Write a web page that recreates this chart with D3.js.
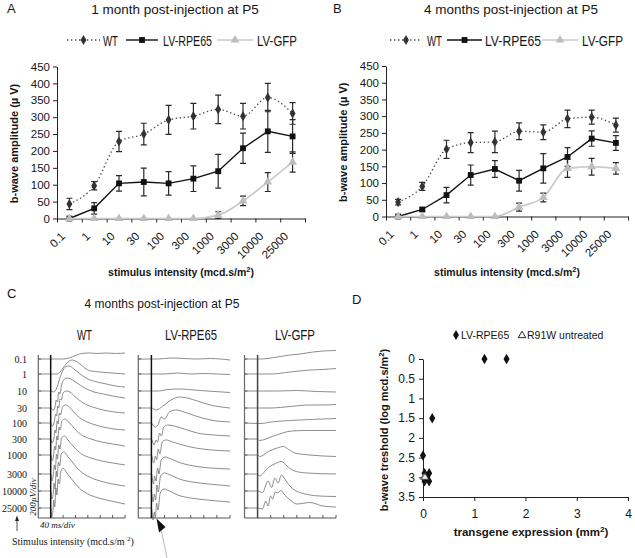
<!DOCTYPE html>
<html><head><meta charset="utf-8">
<script src="https://cdn.jsdelivr.net/npm/d3@7"></script>
<style>
body{margin:0;background:#fff}
svg{display:block}
text{font-family:"Liberation Sans",Arial,sans-serif;fill:#151515}
.narrow{font-family:"Liberation Sans Narrow","Arial Narrow","Liberation Sans",sans-serif}
.serif{font-family:"Liberation Serif","Times New Roman",serif}
</style>
</head><body>
<svg id="chart" width="635" height="558"></svg>
<script>
// ---------------- DATA ----------------
const intensities = ["0.1","1","10","30","100","300","1000","3000","10000","25000"];
const yTicksAB = [0,50,100,150,200,250,300,350,400,450];
const seriesNames = ["WT","LV-RPE65","LV-GFP"];

// Panel A : 1 month post-injection
const wtA      = [43, 97, 228, 250, 292, 303, 323, 303, 358, 311];
const wtAErr   = [17, 12, 30, 32, 43, 38, 42, 38, 42, 32];
const rpeA     = [0, 30, 104, 108, 104, 118, 140, 208, 258, 243];
const rpeAErr  = [0, 17, 23, 41, 35, 38, 50, 45, 62, 50];
const gfpA     = [0, 0, 0, 0, 0, 0, 10, 52, 108, 167];
const gfpAErr  = [0, 0, 0, 0, 0, 0, 10, 14, 28, 30];

// Panel B : 4 months post-injection
const wtB      = [43, 90, 201, 221, 223, 255, 252, 292, 297, 273];
const wtBErr   = [8, 12, 27, 30, 32, 25, 22, 26, 21, 21];
const rpeB     = [0, 21, 64, 124, 142, 107, 144, 178, 233, 220];
const rpeBErr  = [0, 5, 23, 30, 25, 31, 44, 28, 23, 22];
const gfpB     = [0, 0, 0, 0, 0, 28, 57, 144, 149, 144];
const gfpBErr  = [0, 0, 0, 0, 0, 12, 13, 27, 25, 17];

// Panel C : ERG traces, [time ms, amplitude µV], one trace per intensity
const cTimeTicks = [0,40,80,120,160,200,240];
const wtTraces = [
 [[-40,0],[0,0],[40,0],[60,10],[80,35],[100,55],[125,60],[150,55],[180,60],[210,55],[240,60]],
 [[-40,0],[0,0],[20,0],[30,20],[40,60],[50,100],[60,130],[70,140],[80,130],[95,100],[110,60],[130,30],[160,20],[200,10],[240,0]],
 [[-40,0],[0,0],[10,-10],[18,20],[25,80],[32,150],[40,210],[50,245],[60,250],[75,220],[95,170],[120,120],[150,90],[180,70],[210,50],[240,40]],
 [[-40,0],[0,0],[8,-20],[14,10],[18,80],[22,60],[26,160],[30,140],[35,230],[42,280],[52,300],[65,290],[85,250],[110,200],[140,160],[170,140],[200,120],[240,100]],
 [[-40,0],[0,0],[6,-30],[12,20],[16,90],[19,70],[23,170],[26,150],[30,240],[34,230],[40,300],[50,320],[62,310],[80,260],[105,200],[135,160],[170,130],[205,110],[240,100]],
 [[-40,0],[0,0],[5,-40],[10,0],[14,90],[17,60],[21,180],[24,150],[28,260],[32,240],[38,320],[48,340],[60,320],[80,250],[105,190],[135,150],[170,120],[205,100],[240,90]],
 [[-40,0],[0,0],[5,-60],[9,-10],[13,90],[16,50],[20,190],[23,150],[27,280],[31,250],[36,340],[46,360],[58,330],[78,260],[100,200],[130,160],[165,130],[200,110],[240,90]],
 [[-40,0],[0,0],[4,-70],[8,-20],[12,90],[15,40],[19,200],[22,150],[26,290],[30,250],[35,360],[44,380],[56,340],[75,270],[100,200],[130,160],[165,130],[200,110],[240,90]],
 [[-40,0],[0,0],[4,-80],[8,-30],[11,80],[14,20],[18,200],[21,140],[25,290],[29,250],[34,370],[42,390],[54,350],[72,280],[95,200],[125,140],[160,100],[200,70],[240,50]],
 [[-40,0],[0,0],[3,-90],[7,-40],[10,80],[13,10],[17,200],[20,130],[24,290],[28,240],[33,370],[40,400],[52,350],[70,280],[92,200],[120,140],[155,100],[195,70],[240,40]]
];
const rpeTraces = [
 [[-40,0],[20,0],[60,10],[100,5],[140,0],[180,5],[240,-10]],
 [[-40,0],[40,0],[80,10],[120,0],[160,5],[200,0],[240,-5]],
 [[-40,0],[20,0],[50,15],[90,20],[130,10],[170,0],[240,-15]],
 [[-40,0],[0,0],[15,-20],[35,20],[60,80],[85,110],[110,100],[140,70],[180,30],[240,0]],
 [[-40,0],[0,0],[10,-40],[20,-20],[30,60],[40,40],[55,110],[75,130],[100,110],[135,70],[180,30],[240,10]],
 [[-40,0],[0,0],[8,-60],[14,-10],[19,-30],[25,60],[30,30],[38,120],[50,140],[70,130],[100,100],[140,60],[190,40],[240,30]],
 [[-40,0],[0,0],[7,-80],[12,-10],[16,-50],[21,60],[26,10],[33,130],[45,150],[65,130],[95,100],[135,70],[185,50],[240,40]],
 [[-40,0],[0,0],[6,-100],[10,-20],[14,-70],[19,60],[23,0],[30,140],[42,170],[60,150],[90,110],[130,80],[180,60],[240,50]],
 [[-40,0],[0,0],[5,-110],[9,-30],[13,-90],[17,60],[21,-10],[28,150],[40,180],[58,160],[85,120],[125,90],[175,70],[240,50]],
 [[-40,0],[0,0],[5,-120],[9,-40],[12,-100],[16,50],[20,-20],[27,150],[38,190],[55,170],[80,130],[120,100],[170,80],[240,60]]
];
const gfpTraces = [
 [[-40,0],[10,0],[60,20],[100,40],[130,50],[170,70],[200,80],[240,85]],
 [[-40,0],[40,0],[100,20],[160,40],[200,45],[240,55]],
 [[-40,0],[60,0],[120,5],[180,-5],[240,-10]],
 [[-40,0],[40,0],[100,15],[160,30],[200,30],[240,35]],
 [[-40,0],[10,-5],[40,10],[100,25],[160,35],[240,45]],
 [[-40,0],[0,0],[5,-15],[53,35],[104,80],[150,85],[240,85]],
 [[-40,0],[0,0],[7,-15],[33,35],[60,70],[79,85],[95,55],[114,20],[160,0],[240,-15]],
 [[-40,0],[0,0],[5,-20],[33,65],[55,105],[73,125],[90,80],[109,35],[150,10],[240,0]],
 [[-40,0],[0,0],[15,-15],[32,100],[43,35],[53,130],[63,80],[73,160],[85,110],[99,50],[129,-15],[190,-50],[240,-55]],
 [[-40,0],[0,0],[15,-10],[25,70],[32,20],[40,120],[46,90],[54,160],[62,150],[70,175],[85,125],[100,80],[120,40],[160,55],[200,20],[240,10]]
];

// Panel D : threshold vs transgene expression
const dXTicks = [0,1,2,3,4];
const dYTicks = [0,0.5,1,1.5,2,2.5,3,3.5];
const rpeExprX = [1.2, 1.63, 0.18, 0, 0.03, 0.12, 0.03, 0.12, 0.07];
const rpeThrY  = [0, 0, 1.5, 2.45, 2.9, 2.9, 3.1, 3.1, 3.0];
const r91wX    = [0.02, 0.04];
const r91wY    = [3.0, 3.0];

// ---------------- DRAWING ----------------
const svg = d3.select("#chart");

function txt(x, y, s, o = {}) {
  const t = svg.append("text").attr("x", x).attr("y", y).text(s);
  if (o.cls) t.attr("class", o.cls);
  if (o.size) t.attr("font-size", o.size);
  if (o.anchor) t.attr("text-anchor", o.anchor);
  if (o.weight) t.attr("font-weight", o.weight);
  if (o.style) t.attr("font-style", o.style);
  if (o.len) t.attr("textLength", o.len).attr("lengthAdjust", "spacingAndGlyphs");
  return t;
}
function supText(x, y, pre, sup, post, o = {}) {
  const t = svg.append("text").attr("x", x).attr("y", y)
    .attr("font-size", o.size).attr("text-anchor", o.anchor || "start");
  if (o.weight) t.attr("font-weight", o.weight);
  if (o.cls) t.attr("class", o.cls);
  if (o.rot) t.attr("transform", `rotate(-90,${x},${y})`);
  t.append("tspan").text(pre);
  t.append("tspan").attr("dy", -4).attr("font-size", o.size * 0.7).text(sup);
  t.append("tspan").attr("dy", 4).text(post);
  return t;
}

function styleAxis(a) {
  a.selectAll("path.domain").attr("stroke", "#222").attr("stroke-width", 1);
  a.selectAll(".tick line").attr("stroke", "#222");
  a.selectAll(".tick text").attr("fill", "#151515").attr("font-family", "Liberation Sans, Arial, sans-serif");
}

function lineChart(cfg) {
  const g = svg.append("g");
  const x = d3.scaleBand().domain(intensities).range([cfg.x0, cfg.x1]);
  const xi = d3.scaleLinear().domain([0, intensities.length]).range([cfg.x0, cfg.x1]);
  const y = d3.scaleLinear().domain([0, 450]).range([cfg.yb, cfg.yt]);

  const ya = g.append("g").attr("transform", `translate(${cfg.x0},0)`)
    .call(d3.axisLeft(y).tickValues(yTicksAB).tickSize(4).tickSizeOuter(0).tickPadding(3));
  ya.selectAll(".tick text").attr("font-size", 11.5);
  styleAxis(ya);
  const xa = g.append("g").attr("transform", `translate(0,${cfg.yb})`)
    .call(d3.axisBottom(xi).ticks(intensities.length).tickSize(4).tickSizeOuter(0).tickFormat(""));
  styleAxis(xa);
  g.selectAll(".xl").data(intensities).join("text")
    .attr("transform", d => `translate(${x(d) + x.bandwidth() / 2 - 3.5},${cfg.yb + 18.5}) rotate(-45)`)
    .attr("text-anchor", "end").attr("font-size", 11.5).text(d => d);

  const cx = i => x(intensities[i]) + x.bandwidth() / 2;
  const series = [
    { v: cfg.wt, e: cfg.wtE, stroke: "#4a4a4a", dash: "1.4,2.6", w: 1.3, curve: d3.curveMonotoneX, sym: d3.symbolDiamond, size: 30, fill: "#333" },
    { v: cfg.rpe, e: cfg.rpeE, stroke: "#111", dash: null, w: 1.4, curve: d3.curveLinear, sym: d3.symbolSquare, size: 34, fill: "#111" },
    { v: cfg.gfp, e: cfg.gfpE, stroke: "#cacaca", dash: null, w: 1.7, curve: d3.curveMonotoneX, sym: d3.symbolTriangle, size: 34, fill: "#bdbdbd" }
  ];
  series.forEach(s => {
    g.append("path").datum(s.v)
      .attr("d", d3.line().x((d, i) => cx(i)).y(d => y(d)).curve(s.curve))
      .attr("fill", "none").attr("stroke", s.stroke).attr("stroke-width", s.w)
      .attr("stroke-dasharray", s.dash);
    s.v.forEach((d, i) => {
      const e = s.e[i];
      if (!e) return;
      const x0 = cx(i);
      g.append("path")
        .attr("d", `M${x0},${y(d - e)}V${y(d + e)}M${x0 - 3},${y(d - e)}H${x0 + 3}M${x0 - 3},${y(d + e)}H${x0 + 3}`)
        .attr("stroke", "#2a2a2a").attr("stroke-width", 1.2).attr("fill", "none");
    });
    g.selectAll(null).data(s.v).join("path")
      .attr("transform", (d, i) => `translate(${cx(i)},${y(d)})`)
      .attr("d", d3.symbol().type(s.sym).size(s.size)).attr("fill", s.fill);
  });

  // legend
  const L = cfg.leg;
  series.forEach((s, k) => {
    const it = L[k];
    g.append("line").attr("x1", it.l0).attr("x2", it.l1).attr("y1", L.y).attr("y2", L.y)
      .attr("stroke", s.stroke).attr("stroke-width", s.w).attr("stroke-dasharray", s.dash);
    g.append("path").attr("transform", `translate(${(it.l0 + it.l1) / 2},${L.y})`)
      .attr("d", d3.symbol().type(s.sym).size(s.size)).attr("fill", s.fill);
    txt(it.tx, L.y + 5.5, seriesNames[k], { cls: "narrow", size: 14.5, len: it.tw });
  });

  // titles
  txt(cfg.titleX, 14, cfg.title, { size: 13.5, anchor: "middle" });
  txt(cfg.letterX, 13, cfg.letter, { size: 13 });
  supText(cfg.xtX, 276, "stimulus intensity (mcd.s/m", "2", ")", { size: 10.5, weight: "bold", anchor: "middle" });
  txt(0, 0, "b-wave amplitude (µ V)", { size: 11, weight: "bold", anchor: "middle" })
    .attr("transform", `translate(${cfg.ytX},${(cfg.yb + cfg.yt) / 2 + 1}) rotate(-90)`);
}

lineChart({
  x0: 57, x1: 305, yb: 218.5, yt: 66.5,
  wt: wtA, wtE: wtAErr, rpe: rpeA, rpeE: rpeAErr, gfp: gfpA, gfpE: gfpAErr,
  title: "1 month post-injection at P5", titleX: 175, letter: "A", letterX: 7,
  xtX: 181, ytX: 18,
  leg: { y: 40, 0: { l0: 67, l1: 100, tx: 103, tw: 15 }, 1: { l0: 126, l1: 158, tx: 163, tw: 49 }, 2: { l0: 217, l1: 253, tx: 257, tw: 40 } }
});
lineChart({
  x0: 386, x1: 628, yb: 216.5, yt: 66,
  wt: wtB, wtE: wtBErr, rpe: rpeB, rpeE: rpeBErr, gfp: gfpB, gfpE: gfpBErr,
  title: "4 months post-injection at P5", titleX: 511, letter: "B", letterX: 333,
  xtX: 507, ytX: 347,
  leg: { y: 40, 0: { l0: 390, l1: 422, tx: 427, tw: 15 }, 1: { l0: 447, l1: 482, tx: 485, tw: 56 }, 2: { l0: 542, l1: 578, tx: 582, tw: 41 } }
});

// ---------------- Panel C ----------------
txt(7, 298, "C", { size: 13 });
txt(162, 308, "4 months post-injection at P5", { size: 12, anchor: "middle" });
const rowY = [359, 374, 391, 408, 423, 439, 455, 474, 491, 508];
const cTop = 355, cBot = 518;
const ampPx = d3.scaleLinear().domain([0, 200]).range([0, 20]); // 200 µV/div
intensities.forEach((d, i) => txt(27, rowY[i] + 3.5, d, { cls: "serif", size: 10, anchor: "end" }));

const cPanels = [
  { name: "WT", x0: 38.3, x1: 125, traces: wtTraces, tx: 84.5, tw: 15, stim: "#111" },
  { name: "LV-RPE65", x0: 138.3, x1: 230, traces: rpeTraces, tx: 191, tw: 52, stim: "#111" },
  { name: "LV-GFP", x0: 244.5, x1: 336, traces: gfpTraces, tx: 295, tw: 40, stim: "#444" }
];
cPanels.forEach(p => {
  const x = d3.scaleLinear().domain([-40, 240]).range([p.x0, p.x1]);
  const g = svg.append("g");
  txt(p.tx, 340, p.name, { cls: "narrow", size: 14.5, anchor: "middle", len: p.tw });
  g.append("line").attr("x1", p.x0).attr("x2", p.x0).attr("y1", cTop).attr("y2", cBot).attr("stroke", "#666").attr("stroke-width", 1.2);
  g.append("line").attr("x1", p.x0).attr("x2", p.x1).attr("y1", cBot).attr("y2", cBot).attr("stroke", "#555").attr("stroke-width", 1);
  cTimeTicks.forEach(t => g.append("line").attr("x1", x(t)).attr("x2", x(t)).attr("y1", cBot).attr("y2", cBot - 3).attr("stroke", "#555"));
  rowY.forEach(yy => g.append("line").attr("x1", p.x0).attr("x2", p.x0 + 3).attr("y1", yy).attr("y2", yy).attr("stroke", "#555"));
  p.traces.forEach((tr, i) => {
    g.append("path").datum(tr)
      .attr("d", d3.line().x(d => x(d[0])).y(d => rowY[i] - ampPx(d[1])).curve(d3.curveMonotoneX))
      .attr("fill", "none").attr("stroke", "#707070").attr("stroke-width", 0.8);
  });
  g.append("line").attr("x1", x(0)).attr("x2", x(0)).attr("y1", cTop).attr("y2", cBot).attr("stroke", p.stim).attr("stroke-width", 1.5);
});
txt(0, 0, "200µV/div", { cls: "serif", size: 9, style: "italic", anchor: "middle" })
  .attr("transform", "translate(36,497) rotate(-90)");
txt(40, 528, "40 ms/div", { cls: "serif", size: 9, style: "italic" });
svg.append("line").attr("x1", 17).attr("x2", 17).attr("y1", 531).attr("y2", 519).attr("stroke", "#222").attr("stroke-width", 0.8);
svg.append("path").attr("d", "M15,521L17,515.5L19,521Z").attr("fill", "#222");
supText(12, 545, "Stimulus intensity (mcd.s/m ", "2", ")", { size: 10, cls: "serif" });
svg.append("line").attr("x1", 161).attr("y1", 529).attr("x2", 167).attr("y2", 558).attr("stroke", "#bbb").attr("stroke-width", 1);
svg.append("path").attr("d", "M156.5,518.5L165.5,527L159,532.5Z").attr("fill", "#111");

// ---------------- Panel D ----------------
txt(352, 304, "D", { size: 13 });
const xD = d3.scaleLinear().domain([0, 4]).range([423, 628]);
const yD = d3.scaleLinear().domain([0, 3.5]).range([359, 497]);
const gD = svg.append("g");
const yaD = gD.append("g").attr("transform", "translate(423,0)")
  .call(d3.axisLeft(yD).tickValues(dYTicks).tickFormat(d3.format("~g")).tickSize(4).tickSizeOuter(0).tickPadding(4));
yaD.selectAll(".tick text").attr("font-size", 12);
styleAxis(yaD);
const xaD = gD.append("g").attr("transform", "translate(0,497)")
  .call(d3.axisBottom(xD).tickValues(dXTicks).tickFormat(d3.format("~g")).tickSize(4).tickSizeOuter(0).tickPadding(8));
xaD.selectAll(".tick text").attr("font-size", 12);
styleAxis(xaD);
gD.selectAll(".rpe").data(rpeExprX).join("path")
  .attr("transform", (d, i) => `translate(${xD(d)},${yD(rpeThrY[i])})`)
  .attr("d", d3.symbol().type(d3.symbolDiamond).size(32)).attr("fill", "#111");
gD.selectAll(".r91").data(r91wX).join("path")
  .attr("transform", (d, i) => `translate(${xD(d)},${yD(r91wY[i])})`)
  .attr("d", d3.symbol().type(d3.symbolTriangle).size(22)).attr("fill", "#eee").attr("stroke", "#333").attr("stroke-width", 0.7);
// legend D
gD.append("path").attr("transform", "translate(456,335)").attr("d", d3.symbol().type(d3.symbolDiamond).size(30)).attr("fill", "#111");
txt(461, 339, "LV-RPE65", { size: 10.5 });
gD.append("path").attr("transform", "translate(522,335.5)").attr("d", d3.symbol().type(d3.symbolTriangle).size(24)).attr("fill", "#fff").attr("stroke", "#222").attr("stroke-width", 1);
txt(527, 339, "R91W untreated", { size: 10.5 });
supText(531, 536, "transgene expression (mm", "2", ")", { size: 11.5, weight: "bold", anchor: "middle" });
supText(388, 430, "b-wave treshold (log mcd.s/m", "2", ")", { size: 11, weight: "bold", anchor: "middle", rot: true });
</script>
</body></html>
